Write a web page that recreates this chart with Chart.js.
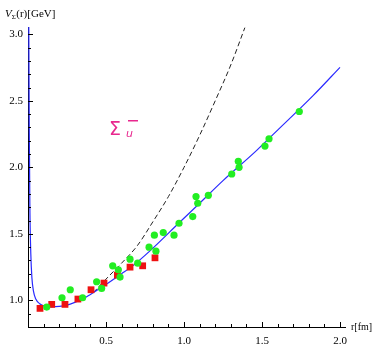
<!DOCTYPE html>
<html>
<head>
<meta charset="utf-8">
<script src="https://cdn.jsdelivr.net/npm/chart.js@4.4.1/dist/chart.umd.min.js"></script>
<style>
  html, body { margin: 0; padding: 0; background: #fff; }
  #wrap { width: 373px; height: 345px; position: relative; }
</style>
</head>
<body>
<div id="wrap"><canvas id="c" width="373" height="345"></canvas></div>
<script>
// Measured points: red squares
const redR = [0.077, 0.152, 0.237, 0.32, 0.404, 0.487, 0.573, 0.654, 0.735, 0.814];
const redV = [0.94, 0.97, 0.97, 1.01, 1.08, 1.13, 1.19, 1.25, 1.26, 1.32];

// Measured points: green dots
const greenR = [0.12, 0.218, 0.271, 0.35, 0.44, 0.472, 0.543, 0.579, 0.59, 0.654, 0.703,
                0.776, 0.81, 0.82, 0.867, 0.936, 0.968, 1.056, 1.077, 1.088, 1.156,
                1.306, 1.348, 1.353, 1.519, 1.545, 1.739];
const greenV = [0.95, 1.02, 1.08, 1.02, 1.14, 1.09, 1.26, 1.23, 1.175, 1.31, 1.28,
                1.40, 1.49, 1.37, 1.51, 1.49, 1.58, 1.63, 1.78, 1.73, 1.79,
                1.95, 2.045, 2.0, 2.16, 2.215, 2.42];

// Potential curve (solid blue)
const fitR = [0.005, 0.008, 0.012, 0.018, 0.025, 0.035, 0.05, 0.075, 0.1, 0.15, 0.2, 0.25,
              0.3, 0.35, 0.4, 0.46, 0.5, 0.6, 0.675, 0.78, 0.974, 1.1, 1.25, 1.466, 1.6,
              1.829, 2.0];
const fitV = [3.06, 2.3, 1.7, 1.35, 1.17, 1.07, 1.01, 0.975, 0.96, 0.952, 0.955, 0.965,
              0.985, 1.01, 1.045, 1.09, 1.12, 1.2, 1.263, 1.37, 1.589, 1.73, 1.9, 2.128, 2.28,
              2.541, 2.752];

// Comparison curve (dashed black)
const dashR = [0.42, 0.5, 0.6, 0.7, 0.8, 0.9, 1.0, 1.1, 1.2, 1.3, 1.39];
const dashV = [1.06, 1.16, 1.28, 1.41, 1.59, 1.78, 2.0, 2.24, 2.5, 2.77, 3.05];

// Axis ticks
const xLabelTicks = [0.5, 1.0, 1.5, 2.0];
const yLabelTicks = [1.0, 1.5, 2.0, 2.5, 3.0];
const xMinorTicks = [0.1, 0.2, 0.3, 0.4, 0.6, 0.7, 0.8, 0.9, 1.1, 1.2, 1.3, 1.4, 1.6, 1.7, 1.8, 1.9];
const yMinorTicks = [0.9, 1.1, 1.2, 1.3, 1.4, 1.6, 1.7, 1.8, 1.9, 2.1, 2.2, 2.3, 2.4, 2.6, 2.7, 2.8, 2.9];

const pts = (xs, ys) => xs.map((x, i) => ({ x: x, y: ys[i] }));

const SERIF = '"Liberation Serif", "DejaVu Serif", serif';

// Inward tick marks, axis titles and the curve label
const decorations = {
  id: 'decorations',
  afterDraw(chart) {
    const ctx = chart.ctx;
    const xs = chart.scales.x, ys = chart.scales.y;
    const area = chart.chartArea;
    ctx.save();
    ctx.strokeStyle = '#000';
    ctx.lineWidth = 1;
    const xTick = (v, len) => {
      const px = Math.round(xs.getPixelForValue(v)) + 0.5;
      ctx.beginPath(); ctx.moveTo(px, area.bottom); ctx.lineTo(px, area.bottom - len); ctx.stroke();
    };
    const yTick = (v, len) => {
      const py = Math.round(ys.getPixelForValue(v)) + 0.5;
      ctx.beginPath(); ctx.moveTo(area.left, py); ctx.lineTo(area.left + len, py); ctx.stroke();
    };
    xLabelTicks.forEach(v => xTick(v, 5));
    xMinorTicks.forEach(v => xTick(v, 3));
    yLabelTicks.forEach(v => yTick(v, 5));
    yMinorTicks.forEach(v => yTick(v, 3));

    // x-axis title
    ctx.fillStyle = '#000';
    ctx.textBaseline = 'middle';
    ctx.textAlign = 'left';
    ctx.font = '10px ' + SERIF;
    ctx.fillText('r[fm]', area.right + 6, area.bottom);

    // y-axis title: V_Σ(r)[GeV]
    ctx.textBaseline = 'alphabetic';
    let x = 5, y = 17;
    ctx.font = 'italic 11px ' + SERIF;
    ctx.fillText('V', x, y);
    x += ctx.measureText('V').width;
    ctx.font = '7px ' + SERIF;
    ctx.fillText('Σ', x, y + 2);
    x += ctx.measureText('Σ').width + 0.5;
    ctx.font = '11px ' + SERIF;
    ctx.fillText('(r)[GeV]', x, y);

    // Curve label: Σ_u with bar
    ctx.fillStyle = '#e8288e';
    ctx.font = '19px "DejaVu Sans", sans-serif';
    ctx.fillText('Σ', 109, 135);
    ctx.font = 'italic 11px "DejaVu Sans", sans-serif';
    ctx.fillText('u', 126, 137);
    ctx.fillRect(128, 120, 10, 1.5);
    ctx.restore();
  }
};

new Chart(document.getElementById('c'), {
  type: 'scatter',
  data: {
    datasets: [
      {
        label: 'red',
        data: pts(redR, redV),
        pointStyle: 'rect',
        pointRadius: 4.8,
        pointHoverRadius: 4.8,
        backgroundColor: '#ee1111',
        borderColor: '#ee1111',
        borderWidth: 0,
        order: 1
      },
      {
        label: 'green',
        data: pts(greenR, greenV),
        pointStyle: 'circle',
        pointRadius: 3.6,
        pointHoverRadius: 3.6,
        backgroundColor: '#22ee22',
        borderColor: '#22ee22',
        borderWidth: 0,
        order: 0
      },
      {
        label: 'fit',
        type: 'line',
        data: pts(fitR, fitV),
        showLine: true,
        borderColor: '#2a2aff',
        borderWidth: 1.2,
        pointRadius: 0,
        fill: false,
        cubicInterpolationMode: 'monotone',
        order: 2
      },
      {
        label: 'dashed',
        type: 'line',
        data: pts(dashR, dashV),
        showLine: true,
        borderColor: '#222',
        borderWidth: 1,
        borderDash: [5, 3],
        pointRadius: 0,
        fill: false,
        cubicInterpolationMode: 'monotone',
        order: 3
      }
    ]
  },
  options: {
    responsive: false,
    animation: false,
    events: [],
    layout: { padding: { top: 27, right: 28, left: 0, bottom: 0 } },
    plugins: { legend: { display: false }, tooltip: { enabled: false } },
    scales: {
      x: {
        type: 'linear',
        min: 0,
        max: 2.032,
        afterFit(s) { s.height = 18; },
        afterBuildTicks(s) { s.ticks = xLabelTicks.map(v => ({ value: v })); },
        grid: { display: false, drawTicks: false },
        border: { display: true, color: '#000', width: 1 },
        ticks: {
          padding: 8,
          color: '#000',
          font: { family: SERIF, size: 11 },
          callback: v => v.toFixed(1)
        }
      },
      y: {
        type: 'linear',
        min: 0.8,
        max: 3.055,
        afterFit(s) { s.width = 28; },
        afterBuildTicks(s) { s.ticks = yLabelTicks.map(v => ({ value: v })); },
        grid: { display: false, drawTicks: false },
        border: { display: true, color: '#000', width: 1 },
        ticks: {
          padding: 5,
          color: '#000',
          font: { family: SERIF, size: 11 },
          callback: v => v.toFixed(1)
        }
      }
    }
  },
  plugins: [decorations]
});
</script>
</body>
</html>
